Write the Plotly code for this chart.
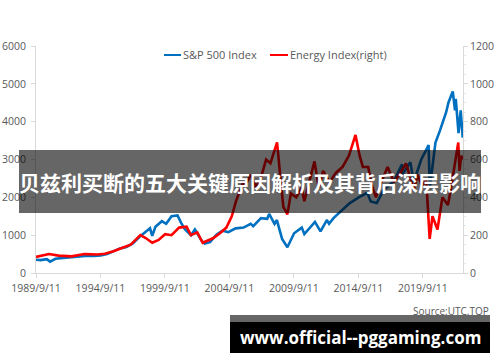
import plotly.graph_objects as go

# ---------------- data ----------------
sp_dates = ["1989-09-11", "1990-01-15", "1990-07-15", "1990-10-15", "1991-03-15", "1991-12-15",
            "1992-06-15", "1993-01-15", "1993-09-15", "1994-03-15", "1994-09-15", "1995-03-15",
            "1995-09-15", "1996-03-15", "1996-09-15", "1997-03-15", "1997-09-15", "1998-03-15",
            "1998-07-15", "1998-09-15", "1998-12-15", "1999-06-15", "1999-10-15", "2000-03-15",
            "2000-09-01", "2000-12-15", "2001-04-01", "2001-09-20", "2002-01-05", "2002-07-20",
            "2002-10-09", "2003-03-10", "2003-09-15", "2004-03-01", "2004-08-10", "2005-03-05",
            "2005-10-15", "2006-05-05", "2006-07-15", "2007-02-20", "2007-08-15", "2007-10-09",
            "2008-03-10", "2008-05-15", "2008-10-10", "2009-03-09", "2009-09-15", "2010-04-20",
            "2010-07-02", "2011-04-29", "2011-10-03", "2012-03-30", "2012-06-01", "2012-10-05",
            "2013-05-20", "2013-12-31", "2014-09-18", "2015-05-20", "2015-08-25", "2016-02-11",
            "2016-08-15", "2017-06-15", "2018-01-26", "2018-02-08", "2018-09-20", "2018-12-24",
            "2019-07-26", "2020-02-19", "2020-03-23", "2020-08-31", "2020-12-31", "2021-06-30",
            "2021-09-02", "2022-01-03", "2022-03-08", "2022-03-29", "2022-06-16", "2022-08-16",
            "2022-10-12"]
sp_values = [350, 340, 365, 300, 375, 400,
             410, 435, 460, 450, 465, 500,
             580, 650, 690, 780, 950, 1100,
             1180, 980, 1220, 1370, 1300, 1500,
             1520, 1320, 1150, 1000, 1150, 850,
             780, 820, 1020, 1120, 1080, 1180,
             1200, 1300, 1240, 1450, 1430, 1560,
             1300, 1400, 900, 680, 1050, 1200,
             1030, 1350, 1100, 1400, 1300, 1450,
             1650, 1840, 2000, 2120, 1890, 1850,
             2180, 2430, 2870, 2600, 2930, 2400,
             3000, 3380, 2240, 3450, 3750, 4250,
             4500, 4800, 4300, 4600, 3700, 4300,
             3580]

en_dates = ["1989-09-11", "1990-03-15", "1990-09-15", "1991-06-15", "1992-06-15", "1993-06-15",
            "1994-06-15", "1995-01-15", "1995-09-15", "1996-06-15", "1997-01-15", "1997-10-15",
            "1998-03-15", "1998-09-15", "1999-03-15", "1999-09-15", "2000-03-15", "2000-10-15",
            "2001-05-15", "2001-09-15", "2002-03-15", "2002-08-15", "2002-12-15", "2003-06-15",
            "2003-12-15", "2004-06-15", "2004-11-15", "2005-03-15", "2005-09-15", "2006-01-15",
            "2006-05-15", "2006-09-15", "2007-01-15", "2007-07-15", "2007-11-15", "2008-05-20",
            "2008-08-15", "2008-11-15", "2009-03-09", "2009-06-15", "2009-11-15", "2010-04-15",
            "2010-07-01", "2010-12-15", "2011-04-15", "2011-08-15", "2011-12-15", "2012-06-15",
            "2012-12-15", "2013-06-15", "2013-12-15", "2014-06-20", "2014-10-15", "2015-01-15",
            "2015-06-15", "2015-09-15", "2016-01-20", "2016-06-15", "2016-12-15", "2017-06-15",
            "2017-12-15", "2018-05-20", "2018-12-24", "2019-04-15", "2019-08-15", "2019-12-15",
            "2020-03-20", "2020-06-08", "2020-10-28", "2021-03-15", "2021-08-20", "2021-11-15",
            "2022-03-08", "2022-06-08", "2022-07-14", "2022-08-30", "2022-10-12"]
en_values = [85, 92, 100, 92, 88, 100,
             98, 102, 115, 135, 150, 200,
             185, 160, 175, 205, 200, 240,
             245, 200, 215, 160, 170, 185,
             210, 240, 300, 380, 470, 480,
             520, 460, 480, 600, 580, 690,
             520, 350, 310, 420, 400, 450,
             380, 500, 590, 450, 540, 480,
             530, 560, 620, 730, 620, 560,
             560, 470, 400, 480, 560, 480,
             530, 580, 440, 520, 460, 490,
             180, 300, 230, 400, 360, 450,
             580, 690, 540, 620, 600]

series_names = ["S&P 500 Index", "Energy Index(right)"]
series_colors = ["#0070C0", "#FF0000"]

tick_dates = ["1989-09-11", "1994-09-11", "1999-09-11", "2004-09-11", "2009-09-11", "2014-09-11", "2019-09-11"]
tick_labels = ["1989/9/11", "1994/9/11", "1999/9/11", "2004/9/11", "2009/9/11", "2014/9/11", "2019/9/11"]
left_ticks = [0, 1000, 2000, 3000, 4000, 5000, 6000]
right_ticks = [0, 200, 400, 600, 800, 1000, 1200]

title_text = "贝兹利买断的五大关键原因解析及其背后深层影响"
banner_text = "www.official--pggaming.com"
source_text = "Source:UTC.TOP"

# ---------------- layout helpers ----------------
W, H = 500, 362
L, R, T, B = 36, 37, 46, 89
PW, PH = W - L - R, H - T - B


def px(x):
    return (x - L) / PW


def py(y):
    return (H - B - y) / PH


fig = go.Figure()
fig.add_trace(go.Scatter(x=sp_dates, y=sp_values, name=series_names[0], mode="lines",
                         line=dict(color=series_colors[0], width=2.6), yaxis="y", showlegend=False))
fig.add_trace(go.Scatter(x=en_dates, y=en_values, name=series_names[1], mode="lines",
                         line=dict(color=series_colors[1], width=2.6), yaxis="y2", showlegend=False))

axis_col = "#d9d9d9"
tick_font = dict(family="Open Sans", size=10.5, color="#595959")

fig.update_layout(
    width=W, height=H, autosize=False,
    margin=dict(l=L, r=R, t=T, b=B, pad=0),
    paper_bgcolor="white", plot_bgcolor="white",
    showlegend=False,
    xaxis=dict(type="date", range=["1989-09-11", "2022-10-20"],
               tickvals=tick_dates, ticktext=tick_labels, tickfont=tick_font,
               showgrid=False, showline=True, linecolor=axis_col, linewidth=1,
               ticks="outside", ticklen=4, tickcolor=axis_col, zeroline=False,
               ticklabelstandoff=1, automargin=False),
    yaxis=dict(range=[0, 6000], tickvals=left_ticks, tickfont=tick_font,
               showgrid=False, showline=True, linecolor=axis_col, linewidth=1,
               ticks="outside", ticklen=4, tickcolor=axis_col, zeroline=False,
               ticklabelstandoff=3, automargin=False),
    yaxis2=dict(range=[0, 1200], tickvals=right_ticks, tickfont=tick_font, overlaying="y",
                side="right", showgrid=False, showline=True, linecolor=axis_col, linewidth=1,
                ticks="outside", ticklen=4, tickcolor=axis_col, zeroline=False,
                ticklabelstandoff=0, automargin=False,
                minor=dict(ticks="outside", ticklen=2, tickcolor="#e6e6e6", dtick=50)),
)

shapes = [
    # legend keys
    dict(type="line", xref="paper", yref="paper", x0=px(164), x1=px(181), y0=py(55), y1=py(55),
         line=dict(color=series_colors[0], width=2)),
    dict(type="line", xref="paper", yref="paper", x0=px(270), x1=px(288), y0=py(55), y1=py(55),
         line=dict(color=series_colors[1], width=2)),
    # title overlay
    dict(type="rect", xref="paper", yref="paper", x0=px(19), x1=px(481), y0=py(213), y1=py(150),
         fillcolor="rgba(0,0,0,0.6)", line=dict(width=0), layer="above"),
    # bottom banner
    dict(type="rect", xref="paper", yref="paper", x0=px(230), x1=px(490), y0=py(322), y1=py(315),
         fillcolor="rgba(0,0,0,0.6)", line=dict(width=0), layer="above"),
    dict(type="rect", xref="paper", yref="paper", x0=px(230), x1=px(490), y0=py(353), y1=py(322),
         fillcolor="#000000", line=dict(width=0), layer="above"),
]
fig.update_layout(shapes=shapes)

legend_font = dict(family="Open Sans", size=11, color="#595959")
fig.add_annotation(text=series_names[0], xref="paper", yref="paper", x=px(181), y=py(55),
                   xanchor="left", yanchor="middle", showarrow=False, font=legend_font)
fig.add_annotation(text=series_names[1], xref="paper", yref="paper", x=px(288), y=py(55),
                   xanchor="left", yanchor="middle", showarrow=False, font=legend_font)

fig.add_annotation(text=source_text, xref="paper", yref="paper", x=px(491), y=py(311),
                   xanchor="right", yanchor="middle", showarrow=False,
                   font=dict(family="Open Sans", size=10, color="#595959"))
fig.add_annotation(text=title_text, xref="paper", yref="paper", x=px(250), y=py(182),
                   xanchor="center", yanchor="middle", showarrow=False,
                   font=dict(family="Noto Sans CJK SC", size=21, color="white", weight="bold"))
fig.add_annotation(text=banner_text, xref="paper", yref="paper", x=px(360), y=py(337),
                   xanchor="center", yanchor="middle", showarrow=False,
                   font=dict(family="Open Sans", size=17, color="white", weight="bold"))

fig.write_html("out.html")
